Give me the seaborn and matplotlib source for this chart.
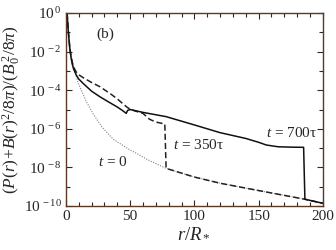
import numpy as np
import pandas as pd
import matplotlib
matplotlib.use("Agg")
import matplotlib.pyplot as plt
import seaborn as sns
from matplotlib.ticker import FixedLocator, FuncFormatter, MultipleLocator

# ---- data (r / R*, and -log10 of the normalised pressure) ----
r_t0 = [1, 1.5, 2, 3, 4, 5, 7, 9, 11, 16, 21, 28, 37, 50, 55, 65, 78, 100, 120, 150, 186, 200]
d_t0 = [0, 0.5, 0.95, 1.65, 2.15, 2.5, 3.05, 3.5, 3.85, 4.6, 5.2, 5.9, 6.55, 7.1, 7.27, 7.65, 8.05, 8.5, 8.82, 9.2, 9.65, 9.86]

r_t350 = [1, 1.5, 2, 3, 4, 5, 6, 8, 10, 13.5, 20, 26.5, 35, 40, 47, 50, 55, 60, 65, 70, 77, 78, 100, 120, 150, 186, 200]
d_t350 = [0, 0.55, 1.0, 1.75, 2.25, 2.55, 2.8, 3.05, 3.2, 3.35, 3.6, 3.82, 4.2, 4.45, 4.85, 4.99, 5.1, 5.2, 5.5, 5.65, 5.75, 8.05, 8.5, 8.82, 9.2, 9.65, 9.86]

r_t700 = [1, 1.5, 2, 3, 4, 5, 6, 8, 10, 13.5, 20, 26.5, 33, 39.5, 44, 47, 48, 50, 60, 78, 100, 120, 140, 150, 156, 165, 175, 185, 186, 200]
d_t700 = [0, 0.6, 1.05, 1.8, 2.3, 2.65, 2.9, 3.2, 3.42, 3.65, 4.05, 4.34, 4.6, 4.85, 5.05, 5.2, 5.05, 5.0, 5.15, 5.37, 5.8, 6.2, 6.5, 6.7, 6.84, 6.93, 6.95, 6.96, 9.65, 9.86]

labels = ["t = 0", "t = 350τ", "t = 700τ"]

def frame(r, d, lab):
    return pd.DataFrame({"r": r, "P": 10.0 ** (-np.asarray(d, float)), "t": lab})

df = pd.concat([frame(r_t0, d_t0, labels[0]),
                frame(r_t350, d_t350, labels[1]),
                frame(r_t700, d_t700, labels[2])], ignore_index=True)

sns.set_style("ticks")
plt.rcParams["font.family"] = ["Liberation Serif", "DejaVu Serif"]
plt.rcParams["mathtext.fontset"] = "custom"
plt.rcParams["mathtext.rm"] = "Liberation Serif"
plt.rcParams["mathtext.it"] = "Liberation Serif:italic"
plt.rcParams["mathtext.bf"] = "Liberation Serif:bold"

fig = plt.figure(figsize=(3.36, 2.5), dpi=100)
ax = fig.add_axes([0.196, 0.176, 0.765, 0.772])

styles = {labels[0]: dict(color="#808080", ls=(0, (1, 1.3)), lw=0.8),
          labels[1]: dict(color="#222222", ls=(0, (4, 2)), lw=1.1),
          labels[2]: dict(color="#111111", ls="-", lw=1.1)}
for lab in labels:
    sub = df[df["t"] == lab]
    sns.lineplot(data=sub, x="r", y="P", ax=ax, sort=False, estimator=None,
                 legend=False, **styles[lab])

ax.set_yscale("log")
ax.set_xlim(0, 200)
ax.set_ylim(1e-10, 1)

ax.xaxis.set_major_locator(MultipleLocator(50))
ax.xaxis.set_minor_locator(MultipleLocator(10))
ax.yaxis.set_major_locator(FixedLocator([10.0 ** -k for k in range(0, 11, 2)]))
ax.yaxis.set_minor_locator(FixedLocator([10.0 ** -k for k in range(1, 11, 2)]))
ax.yaxis.set_major_formatter(FuncFormatter(lambda v, p: r"$10^{\,%d}$" % round(np.log10(v))))
ax.yaxis.set_minor_formatter(FuncFormatter(lambda v, p: ""))

frame_col = "#5a3a24"
for s in ax.spines.values():
    s.set_color(frame_col)
    s.set_linewidth(1.0)
ax.tick_params(which="both", direction="in", top=True, right=True,
               color="#3a2414", labelsize=11, pad=3)
ax.tick_params(which="major", length=4, width=0.8)
ax.tick_params(which="minor", length=3, width=0.8)

ax.set_xlabel(r"$r/R_*$", fontsize=13.5, labelpad=1)
ax.set_ylabel(r"$(P(r)\!+\!B(r)^2/8\pi)/(B_0^{\,2}/8\pi)$", fontsize=12.5)
ax.yaxis.label.set_va("center")
ax.yaxis.set_label_coords(-0.21, 0.5)

ax.text(31, 10 ** -1.08, "(b)", fontsize=11, ha="center", va="center")
ax.text(36.5, 10 ** -7.7, r"$t$ = 0", fontsize=11, ha="center", va="center")
ax.text(103, 10 ** -6.85, r"$t$ = 350τ", fontsize=11, ha="center", va="center")
ax.text(176, 10 ** -6.2, r"$t$ = 700τ", fontsize=11, ha="center", va="center")

fig.savefig("out.png", dpi=100)
